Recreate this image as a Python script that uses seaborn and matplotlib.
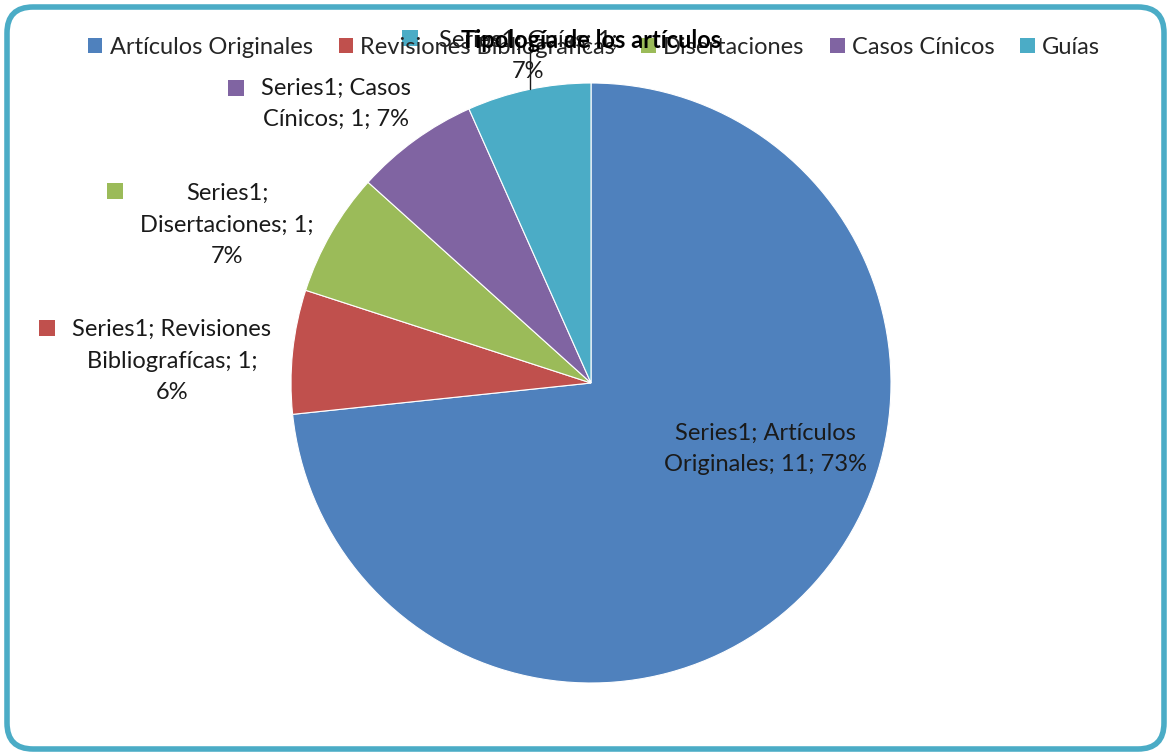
import matplotlib.pyplot as plt
import seaborn as sns
from matplotlib.patches import FancyBboxPatch, Patch

categories = ["Artículos Originales", "Revisiones Bibliografícas", "Disertaciones", "Casos Cínicos", "Guías"]
counts = [11, 1, 1, 1, 1]
percents = [73, 6, 7, 7, 7]
series_name = "Series1"
title = "Tipología de los artículos"
colors = ["#4F81BD", "#C0504D", "#9BBB59", "#8064A2", "#4BACC6"]

sns.set_theme(style="white")
plt.rcParams['font.family'] = ['Lato', 'DejaVu Sans']

W, H = 1171, 756
fig = plt.figure(figsize=(W / 100, H / 100), dpi=100)
ax = fig.add_axes([0, 0, 1, 1])

# rounded frame
frame = FancyBboxPatch((7, 7), W - 14, H - 14, boxstyle="round,pad=0,rounding_size=26",
                       fc='white', ec='#4BACC6', lw=4, zorder=0)
ax.add_patch(frame)

wedges, _ = ax.pie(counts, colors=colors, startangle=90, counterclock=False,
                   center=(591, H - 383), radius=300, frame=True,
                   wedgeprops=dict(linewidth=0.8, edgecolor='white'))
ax.set_xlim(0, W)
ax.set_ylim(0, H)
ax.set_aspect('equal')
ax.axis('off')

fs = 17
ls = 1.6

# data labels (pixel positions from top-left)
lab = [
    (765, 449, f"{series_name}; Artículos\nOriginales; {counts[0]}; {percents[0]}%", None),
    (172, 361, f"{series_name}; Revisiones\nBibliografícas; {counts[1]};\n{percents[1]}%", (47, 328)),
    (227, 225, f"{series_name};\nDisertaciones; {counts[2]};\n{percents[2]}%", (115, 191)),
    (336, 104, f"{series_name}; Casos\nCínicos; {counts[3]}; {percents[3]}%", (236, 88)),
    (528, 56, f"{series_name}; Guías; {counts[4]};\n{percents[4]}%", (410, 38)),
]
for i, (x, y, t, key) in enumerate(lab):
    ax.text(x, H - y, t, ha='center', va='center', fontsize=fs, linespacing=ls,
            color='#1a1a1a', zorder=5)
    if key is not None:
        ax.scatter([key[0]], [H - key[1]], marker='s', s=130, color=colors[i], zorder=5, linewidths=0)

# leader line for Guías
ax.plot([530, 530], [H - 47, H - 89], color='#1a1a1a', lw=1, zorder=4)

# legend
handles = [Patch(facecolor=c, edgecolor='none') for c in colors]
leg = ax.legend(handles, categories, ncol=5, loc='center', bbox_to_anchor=(594 / W, 1 - 47 / H),
                frameon=False, fontsize=fs, handlelength=0.62, handleheight=0.62,
                handletextpad=0.3, columnspacing=1.1, borderpad=0)

ax.text(591, H - 40, title, ha='center', va='center', fontsize=17, fontweight='bold',
        color='black', zorder=6)

fig.savefig("out.png", dpi=100)
